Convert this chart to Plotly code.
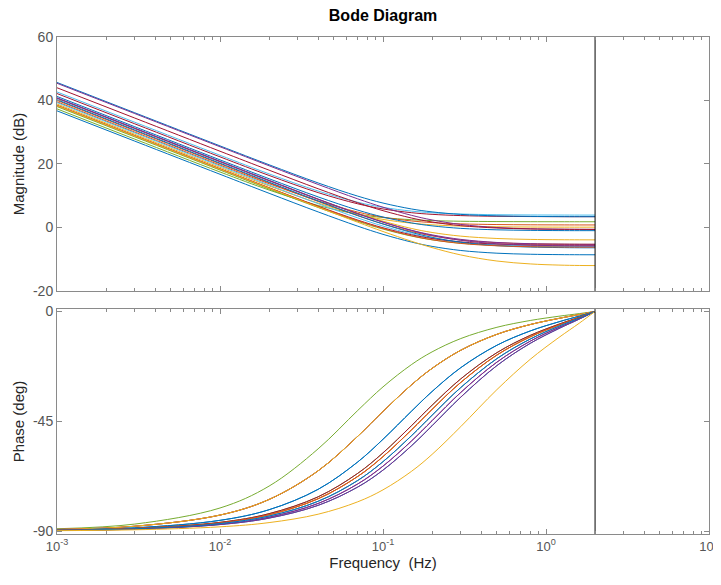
import plotly.graph_objects as go
from plotly.subplots import make_subplots

freq_hz = [0.001, 0.003, 0.01, 0.02, 0.04, 0.07, 0.1, 0.15, 0.2, 0.3, 0.5, 0.8, 1.2, 1.6, 2.0]
nyquist_hz = 2.0

# MATLAB default colour order
line_colors = [
    "#77AC30", "#4DBEEE", "#A2142F", "#D95319", "#EDB120",
    "#0072BD", "#0072BD", "#7E2F8E", "#A2142F", "#EDB120",
    "#D95319", "#7E2F8E", "#77AC30", "#4DBEEE", "#A2142F",
    "#0072BD", "#D95319", "#7E2F8E", "#0072BD", "#EDB120",
]

# magnitude (dB), one row per response
magnitude_db = [
    [37.36, 27.83, 17.48, 11.80, 6.92, 4.19, 3.13, 2.44, 2.17, 1.96, 1.86, 1.82, 1.81, 1.80, 1.8],
    [42.69, 33.15, 22.75, 16.89, 11.48, 7.95, 6.34, 5.15, 4.64, 4.24, 4.02, 3.94, 3.91, 3.90, 3.9],
    [42.19, 32.65, 22.25, 16.39, 10.98, 7.45, 5.84, 4.65, 4.14, 3.74, 3.52, 3.44, 3.41, 3.40, 3.4],
    [39.59, 30.05, 19.65, 13.79, 8.38, 4.85, 3.24, 2.05, 1.54, 1.14, 0.92, 0.84, 0.81, 0.80, 0.8],
    [38.89, 29.35, 18.95, 13.09, 7.68, 4.15, 2.54, 1.35, 0.84, 0.44, 0.22, 0.14, 0.11, 0.10, 0.1],
    [45.68, 36.14, 25.70, 19.76, 14.03, 9.87, 7.69, 5.82, 4.91, 4.12, 3.66, 3.49, 3.42, 3.40, 3.4],
    [41.28, 31.74, 21.30, 15.36, 9.63, 5.47, 3.29, 1.42, 0.51, -0.28, -0.74, -0.91, -0.98, -1.00, -1.0],
    [45.42, 35.88, 25.43, 19.44, 13.55, 9.01, 6.38, 3.81, 2.37, 0.95, -0.02, -0.40, -0.54, -0.59, -0.6],
    [44.01, 34.47, 24.02, 18.05, 12.20, 7.78, 5.29, 2.97, 1.73, 0.57, -0.17, -0.46, -0.56, -0.59, -0.6],
    [40.71, 31.17, 20.72, 14.75, 8.90, 4.48, 1.99, -0.33, -1.57, -2.73, -3.47, -3.76, -3.86, -3.89, -3.9],
    [40.04, 30.50, 20.06, 14.07, 8.20, 3.71, 1.14, -1.31, -2.65, -3.95, -4.80, -5.13, -5.25, -5.29, -5.3],
    [40.72, 31.18, 20.73, 14.74, 8.85, 4.31, 1.68, -0.89, -2.33, -3.75, -4.72, -5.10, -5.24, -5.29, -5.3],
    [38.08, 28.54, 18.10, 12.13, 6.30, 1.93, -0.50, -2.72, -3.88, -4.95, -5.62, -5.87, -5.96, -5.99, -6.0],
    [39.34, 29.80, 19.36, 13.37, 7.50, 3.01, 0.44, -2.01, -3.35, -4.65, -5.50, -5.83, -5.95, -5.99, -6.0],
    [38.48, 28.94, 18.50, 12.53, 6.70, 2.33, -0.10, -2.32, -3.48, -4.55, -5.22, -5.47, -5.56, -5.59, -5.6],
    [40.25, 30.71, 20.26, 14.27, 8.35, 3.78, 1.09, -1.58, -3.10, -4.65, -5.73, -6.17, -6.33, -6.39, -6.4],
    [38.41, 28.87, 18.42, 12.45, 6.60, 2.18, -0.31, -2.63, -3.87, -5.03, -5.77, -6.06, -6.16, -6.19, -6.2],
    [40.85, 31.31, 20.86, 14.87, 8.95, 4.38, 1.69, -0.98, -2.50, -4.05, -5.13, -5.57, -5.73, -5.79, -5.8],
    [36.74, 27.20, 16.76, 10.77, 4.90, 0.41, -2.16, -4.61, -5.95, -7.25, -8.10, -8.43, -8.55, -8.59, -8.6],
    [38.37, 28.83, 18.37, 12.37, 6.39, 1.65, -1.27, -4.37, -6.34, -8.65, -10.57, -11.48, -11.85, -11.97, -12.0],
]

# phase (deg), one row per response
phase_deg = [
    [-89.05, -87.14, -80.54, -71.57, -56.30, -40.57, -30.91, -21.72, -16.57, -11.11, -6.49, -3.71, -1.96, -0.88, 0],
    [-89.34, -88.02, -83.44, -77.05, -65.30, -51.15, -40.97, -30.00, -23.33, -15.89, -9.37, -5.37, -2.84, -1.27, 0],
    [-89.34, -88.02, -83.44, -77.05, -65.30, -51.15, -40.97, -30.00, -23.33, -15.89, -9.37, -5.37, -2.84, -1.27, 0],
    [-89.34, -88.02, -83.44, -77.05, -65.30, -51.15, -40.97, -30.00, -23.33, -15.89, -9.37, -5.37, -2.84, -1.27, 0],
    [-89.34, -88.02, -83.44, -77.05, -65.30, -51.15, -40.97, -30.00, -23.33, -15.89, -9.37, -5.37, -2.84, -1.27, 0],
    [-89.56, -88.68, -85.60, -81.25, -72.89, -61.67, -52.38, -40.79, -32.81, -23.04, -13.85, -8.00, -4.24, -1.90, 0],
    [-89.56, -88.68, -85.60, -81.25, -72.89, -61.67, -52.38, -40.79, -32.81, -23.04, -13.85, -8.00, -4.24, -1.90, 0],
    [-89.71, -89.14, -87.14, -84.29, -78.69, -70.69, -63.39, -53.00, -44.76, -33.19, -20.77, -12.20, -6.51, -2.92, 0],
    [-89.66, -88.99, -86.63, -83.29, -76.75, -67.60, -59.49, -48.44, -40.13, -29.08, -17.86, -10.41, -5.54, -2.48, 0],
    [-89.66, -88.99, -86.63, -83.29, -76.75, -67.60, -59.49, -48.44, -40.13, -29.08, -17.86, -10.41, -5.54, -2.48, 0],
    [-89.69, -89.07, -86.91, -83.83, -77.79, -69.26, -61.56, -50.83, -42.53, -31.18, -19.33, -11.31, -6.03, -2.70, 0],
    [-89.71, -89.14, -87.14, -84.29, -78.69, -70.69, -63.39, -53.00, -44.76, -33.19, -20.77, -12.20, -6.51, -2.92, 0],
    [-89.64, -88.93, -86.42, -82.87, -75.96, -66.34, -57.95, -46.72, -38.43, -27.63, -16.88, -9.82, -5.22, -2.34, 0],
    [-89.69, -89.07, -86.91, -83.83, -77.79, -69.26, -61.56, -50.83, -42.53, -31.18, -19.33, -11.31, -6.03, -2.70, 0],
    [-89.64, -88.93, -86.42, -82.87, -75.96, -66.34, -57.95, -46.72, -38.43, -27.63, -16.88, -9.82, -5.22, -2.34, 0],
    [-89.73, -89.20, -87.34, -84.69, -79.46, -71.95, -65.02, -54.97, -46.84, -35.12, -22.18, -13.09, -7.00, -3.14, 0],
    [-89.66, -88.99, -86.63, -83.29, -76.75, -67.60, -59.49, -48.44, -40.13, -29.08, -17.86, -10.41, -5.54, -2.48, 0],
    [-89.73, -89.20, -87.34, -84.69, -79.46, -71.95, -65.02, -54.97, -46.84, -35.12, -22.18, -13.09, -7.00, -3.14, 0],
    [-89.69, -89.07, -86.91, -83.83, -77.79, -69.26, -61.56, -50.83, -42.53, -31.18, -19.33, -11.31, -6.03, -2.70, 0],
    [-89.83, -89.48, -88.26, -86.53, -83.09, -78.01, -73.11, -65.46, -58.58, -47.19, -32.03, -19.63, -10.66, -4.81, 0],
]

mag_range = [-20, 60]
mag_ticks = [-20, 0, 20, 40, 60]
phase_range = [-91.2, 1.0]
phase_ticks = [-90, -45, 0]
freq_ticks = [0.001, 0.01, 0.1, 1, 10]
freq_ticktext = ["10<sup>-3</sup>", "10<sup>-2</sup>", "10<sup>-1</sup>", "10<sup>0</sup>", "10<sup>1</sup>"]

FONT = "Liberation Sans, Arial, Helvetica, sans-serif"
AXIS_GREY = "#8a8a8a"
TICK_GREY = "#555555"

fig = make_subplots(rows=2, cols=1, shared_xaxes=True)

for color, mag, ph in zip(line_colors, magnitude_db, phase_deg):
    fig.add_trace(go.Scatter(x=freq_hz, y=mag, mode="lines",
                             line=dict(color=color, width=1, shape="spline", smoothing=1.0),
                             showlegend=False, hoverinfo="skip"), row=1, col=1)
    fig.add_trace(go.Scatter(x=freq_hz, y=ph, mode="lines",
                             line=dict(color=color, width=1, shape="spline", smoothing=1.0),
                             showlegend=False, hoverinfo="skip"), row=2, col=1)

# Nyquist frequency marker
fig.add_trace(go.Scatter(x=[nyquist_hz, nyquist_hz], y=mag_range, mode="lines",
                         line=dict(color="black", width=1), showlegend=False,
                         hoverinfo="skip"), row=1, col=1)
fig.add_trace(go.Scatter(x=[nyquist_hz, nyquist_hz], y=phase_range, mode="lines",
                         line=dict(color="black", width=1), showlegend=False,
                         hoverinfo="skip"), row=2, col=1)

xaxis_common = dict(
    type="log", range=[-3, 1], showgrid=False, zeroline=False, automargin=False,
    showline=True, linecolor=AXIS_GREY, linewidth=1, mirror="allticks",
    ticks="inside", ticklen=5, tickcolor=AXIS_GREY,
    tickvals=freq_ticks, ticktext=freq_ticktext, ticklabeloverflow="allow",
    minor=dict(ticks="inside", ticklen=3, tickcolor=AXIS_GREY, dtick="D1", showgrid=False),
    tickfont=dict(family=FONT, size=13, color=TICK_GREY),
)
yaxis_common = dict(
    showgrid=False, zeroline=False, showline=True, linecolor=AXIS_GREY, linewidth=1,
    mirror="allticks", ticks="inside", ticklen=5, tickcolor=AXIS_GREY, automargin=False,
    tickfont=dict(family=FONT, size=14, color=TICK_GREY),
)

fig.update_xaxes(**xaxis_common)
fig.update_xaxes(showticklabels=False, row=1, col=1)
fig.update_xaxes(title=dict(text="Frequency\u00a0 (Hz)", standoff=2,
                            font=dict(family=FONT, size=15, color="#262626")), row=2, col=1)

fig.update_yaxes(**yaxis_common)
fig.update_yaxes(range=mag_range, tickvals=mag_ticks, ticktext=[str(v) for v in mag_ticks],
                 domain=[0.489, 1.0],
                 title=dict(text="Magnitude (dB)", standoff=4,
                            font=dict(family=FONT, size=15, color="#262626")), row=1, col=1)
fig.update_yaxes(range=phase_range, tickvals=phase_ticks, ticktext=[str(v) for v in phase_ticks],
                 domain=[0.0, 0.4527],
                 title=dict(text="Phase (deg)", standoff=4,
                            font=dict(family=FONT, size=15, color="#262626")), row=2, col=1)

# the page body adds an 8 px offset, so the figure is sized to fit the window
fig.update_layout(
    width=713, height=577,
    margin=dict(l=49, r=12, t=29, b=51, autoexpand=False),
    paper_bgcolor="white", plot_bgcolor="white",
    title=dict(text="<b>Bode Diagram</b>", x=0.526, xanchor="center",
               y=0.988, yanchor="middle", automargin=False,
               font=dict(family=FONT, size=16, color="black")),
)

fig.write_html("out.html")
